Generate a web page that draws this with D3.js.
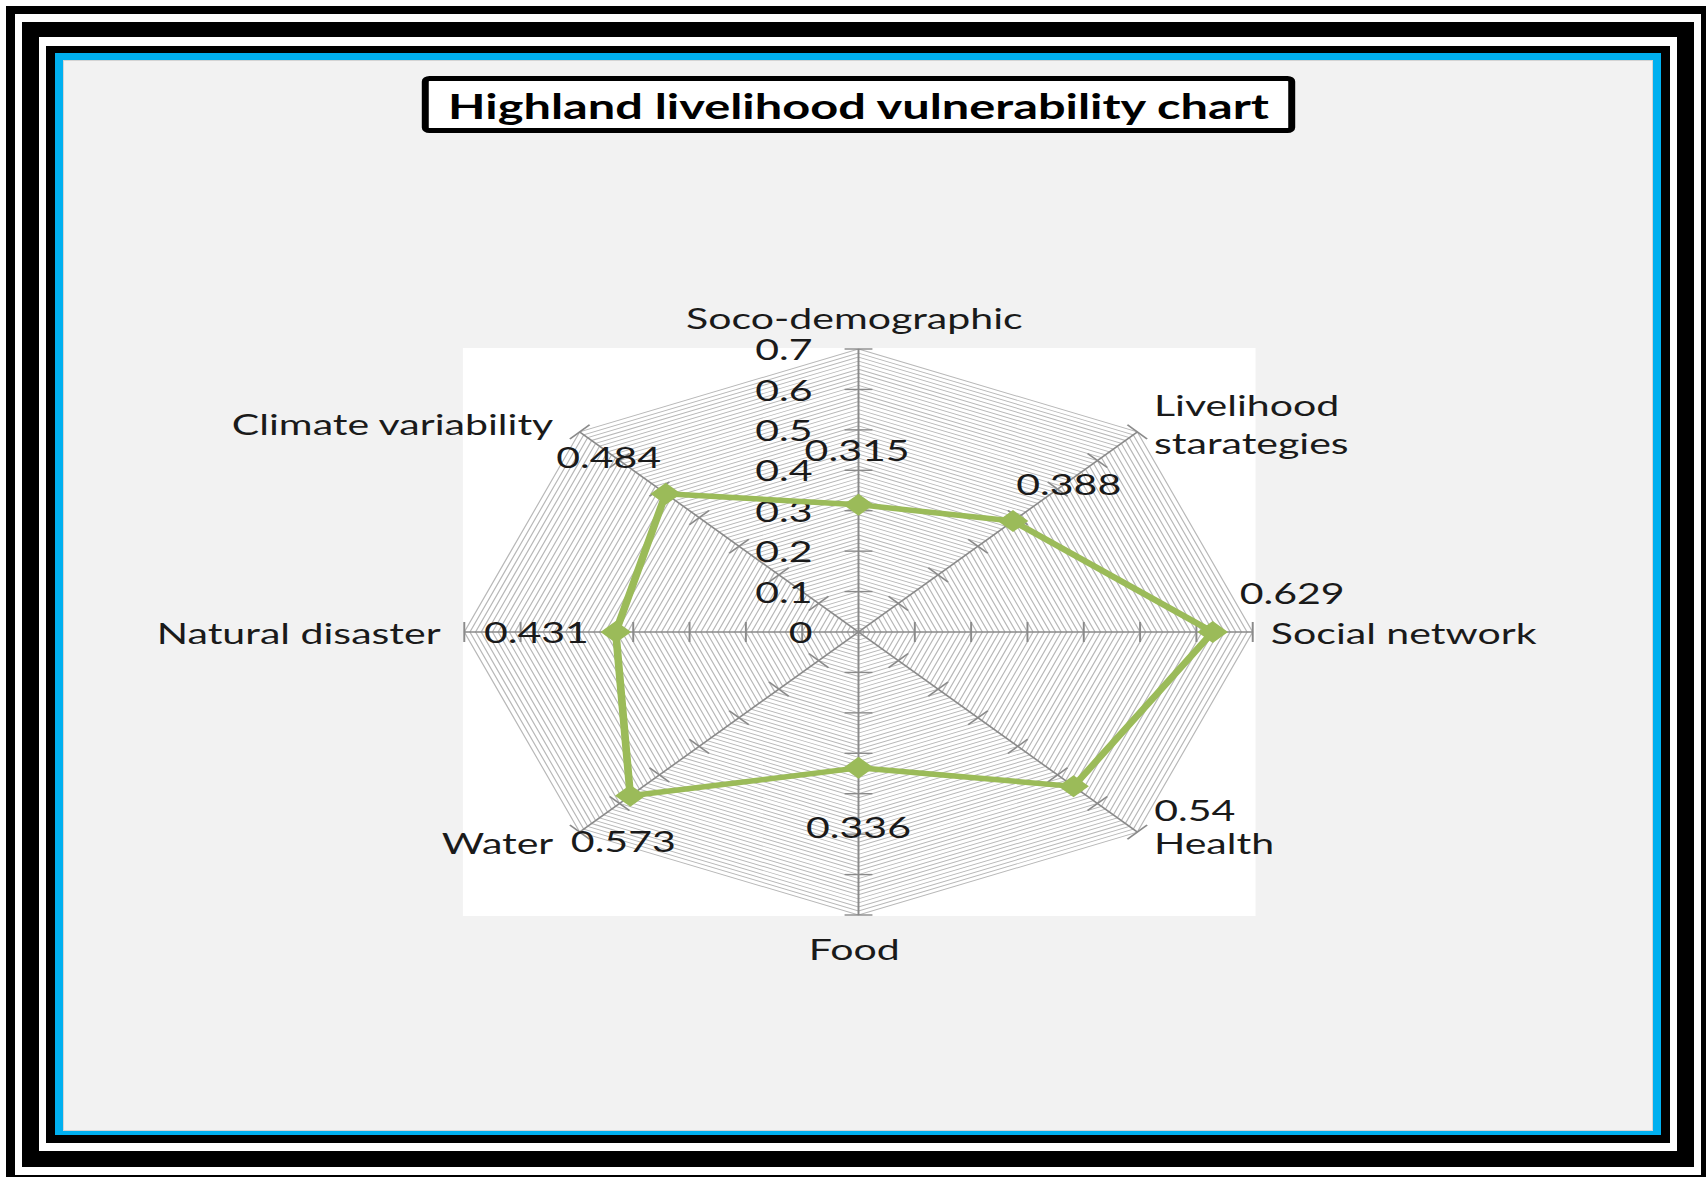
<!DOCTYPE html>
<html>
<head>
<meta charset="utf-8">
<script src="https://cdn.jsdelivr.net/npm/d3@7/dist/d3.min.js"></script>
<style>
  html, body { margin: 0; padding: 0; background: #ffffff; }
  svg { display: block; }
  text { font-family: Lato, "Open Sans", sans-serif; fill: #1a1a1a; }
</style>
</head>
<body>
<svg id="chart" width="1706" height="1177"></svg>
<script>
// ---------- data ----------
const title = "Highland livelihood vulnerability chart";
const categories = ["Soco-demographic", "Livelihood\nstarategies", "Social network", "Health",
                    "Food", "Water", "Natural disaster", "Climate variability"];
const values = [0.315, 0.388, 0.629, 0.54, 0.336, 0.573, 0.431, 0.484];
const tickValues = [0, 0.1, 0.2, 0.3, 0.4, 0.5, 0.6, 0.7];
const tickLabels = ["0", "0.1", "0.2", "0.3", "0.4", "0.5", "0.6", "0.7"];

// ---------- layout ----------
const W = 1706, H = 1177;
const SX = 1.393;             // horizontal stretch of the reference picture
const CX = 858.5, CY = 632;   // chart centre
const R = 283;                // radius of the 0.7 ring (unstretched)
const minorStep = 0.01;
const FS = "29.5px";
// data-label offsets from their points (unstretched px)
const labelOffsets = [[-1, -55], [40, -37], [57, -39], [87, 23], [0, 59], [-5, 45], [-57, 0], [-41, -37]];

const svg = d3.select("#chart");

// ---------- frame ----------
const frames = [
  { x0: 6, y0: 6, x1: 1710, y1: 1183, fill: "#000" },
  { x0: 15, y0: 14, x1: 1701, y1: 1175, fill: "#fff" },
  { x0: 22, y0: 22, x1: 1694, y1: 1167, fill: "#000" },
  { x0: 39, y0: 37, x1: 1677, y1: 1151, fill: "#fff" },
  { x0: 46, y0: 46, x1: 1670, y1: 1143, fill: "#000" },
  { x0: 55, y0: 53, x1: 1661, y1: 1135, fill: "#00b0f0" },
  { x0: 63, y0: 60, x1: 1653, y1: 1131, fill: "#d4d4d4" },
  { x0: 64, y0: 61, x1: 1652, y1: 1130, fill: "#f2f2f2" }
];
svg.selectAll("rect.frame").data(frames).join("rect")
  .attr("class", "frame")
  .attr("x", d => d.x0).attr("y", d => d.y0)
  .attr("width", d => d.x1 - d.x0).attr("height", d => d.y1 - d.y0)
  .attr("fill", d => d.fill);

// ---------- title ----------
const tg = svg.append("g").attr("transform", `translate(${CX},0) scale(${SX},1)`);
tg.append("rect")
  .attr("x", -311).attr("y", 78.5).attr("width", 622).attr("height", 52)
  .attr("rx", 3).attr("fill", "#fff").attr("stroke", "#000").attr("stroke-width", 5);
tg.append("text")
  .attr("x", 0).attr("y", 105)
  .attr("text-anchor", "middle").attr("dominant-baseline", "central")
  .style("font-size", "35px").style("font-weight", "bold").style("fill", "#000")
  .text(title);

// ---------- radar ----------
const g = svg.append("g").attr("transform", `translate(${CX},${CY}) scale(${SX},1)`);
const r = d3.scaleLinear().domain([0, 0.7]).range([0, R]);
const n = categories.length;
const angle = i => i * 2 * Math.PI / n;
const px = (i, v) => r(v) * Math.sin(angle(i));
const py = (i, v) => -r(v) * Math.cos(angle(i));

// plot area
g.append("rect")
  .attr("x", -r(0.7) - 1).attr("y", -r(0.7) - 1)
  .attr("width", 2 * r(0.7) + 3).attr("height", 2 * r(0.7) + 2)
  .attr("fill", "#fff");

// minor rings
const ringVals = d3.range(1, Math.round(0.7 / minorStep) + 1).map(k => k * minorStep);
const ringLine = d3.lineRadial().curve(d3.curveLinearClosed);
g.append("g").selectAll("path").data(ringVals).join("path")
  .attr("d", v => ringLine(d3.range(n).map(i => [angle(i), r(v)])))
  .attr("fill", "none").attr("stroke", "#b8b8b8").attr("stroke-width", 0.9);

// spokes
g.append("g").selectAll("line").data(d3.range(n)).join("line")
  .attr("x1", 0).attr("y1", 0)
  .attr("x2", i => px(i, 0.7)).attr("y2", i => py(i, 0.7))
  .attr("stroke", "#8a8a8a").attr("stroke-width", 1.4);

// tick marks on spokes
const tickData = [];
d3.range(n).forEach(i => tickValues.slice(1).forEach(v => tickData.push({ i, v })));
const TL = 10;
g.append("g").selectAll("line").data(tickData).join("line")
  .attr("x1", d => px(d.i, d.v) - TL * Math.cos(angle(d.i)))
  .attr("y1", d => py(d.i, d.v) - TL * Math.sin(angle(d.i)))
  .attr("x2", d => px(d.i, d.v) + TL * Math.cos(angle(d.i)))
  .attr("y2", d => py(d.i, d.v) + TL * Math.sin(angle(d.i)))
  .attr("stroke", "#8a8a8a").attr("stroke-width", 1.4);

// axis tick labels
g.append("g").selectAll("text").data(tickValues).join("text")
  .attr("x", -33).attr("y", v => -r(v))
  .attr("text-anchor", "end").attr("dominant-baseline", "central")
  .style("font-size", FS)
  .text((v, k) => tickLabels[k]);

// data line
const dataLine = d3.lineRadial().curve(d3.curveLinearClosed);
g.append("path")
  .attr("d", dataLine(values.map((v, i) => [angle(i), r(v)])))
  .attr("fill", "none").attr("stroke", "#9bbb59").attr("stroke-width", 5.5)
  .attr("stroke-linejoin", "round");

// markers
const S = 11;
g.append("g").selectAll("path").data(values).join("path")
  .attr("transform", (v, i) => `translate(${px(i, v)},${py(i, v)})`)
  .attr("d", `M0,${-S}L${S},0L0,${S}L${-S},0Z`)
  .attr("fill", "#9bbb59");

// data labels
g.append("g").selectAll("text").data(values).join("text")
  .attr("x", (v, i) => px(i, v) + labelOffsets[i][0])
  .attr("y", (v, i) => py(i, v) + labelOffsets[i][1])
  .attr("text-anchor", "middle").attr("dominant-baseline", "central")
  .style("font-size", FS)
  .text(v => String(v));

// category labels
const catG = g.append("g");
categories.forEach((c, i) => {
  const s = Math.sin(angle(i)), co = Math.cos(angle(i));
  const vx = R * s, vy = -R * co;
  let x, y, anchor;
  const lines = c.split("\n");
  const lh = 38;
  if (Math.abs(s) < 1e-6) {
    anchor = "middle"; x = -3;
    y = co > 0 ? vy - 32 : vy + 33;
  } else if (Math.abs(co) < 1e-6) {
    anchor = s > 0 ? "start" : "end";
    x = vx + (s > 0 ? 13 : -17); y = 0;
  } else {
    anchor = s > 0 ? "start" : "end";
    x = vx + (s > 0 ? 12 : -19);
    y = vy + (co > 0 ? -8 : 10);
  }
  const t = catG.append("text")
    .attr("text-anchor", anchor).attr("dominant-baseline", "central")
    .style("font-size", FS);
  lines.forEach((ln, k) => {
    t.append("tspan").attr("x", x)
      .attr("y", y + (k - (lines.length - 1) / 2) * lh)
      .text(ln);
  });
});
</script>
</body>
</html>
